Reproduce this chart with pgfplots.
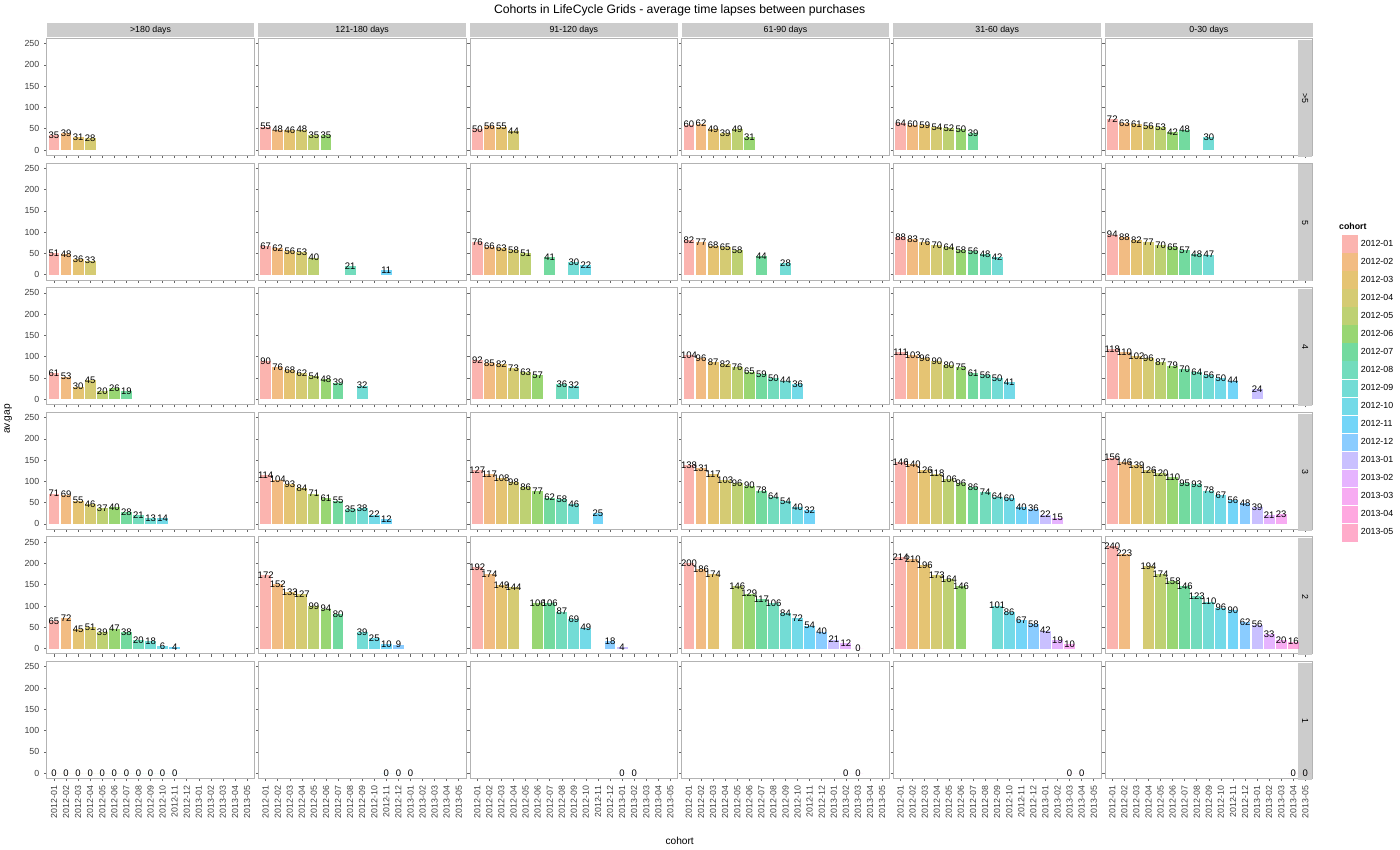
\documentclass[border=0pt]{standalone}
\usepackage{pgfplots}
\pgfplotsset{compat=1.18}
\usepgfplotslibrary{groupplots}
\usetikzlibrary{calc}
\usepackage{fontspec}
\setmainfont{Liberation Sans}
\definecolor{c0}{HTML}{F8766D}\definecolor{c1}{HTML}{E7851E}\definecolor{c2}{HTML}{D09400}
\definecolor{c3}{HTML}{B2A100}\definecolor{c4}{HTML}{89AC00}\definecolor{c5}{HTML}{45B500}
\definecolor{c6}{HTML}{00BC51}\definecolor{c7}{HTML}{00C087}\definecolor{c8}{HTML}{00C0B2}
\definecolor{c9}{HTML}{00BCD6}\definecolor{c10}{HTML}{00B3F2}\definecolor{c11}{HTML}{29A3FF}
\definecolor{c12}{HTML}{9C8DFF}\definecolor{c13}{HTML}{D277FF}\definecolor{c14}{HTML}{F166E8}
\definecolor{c15}{HTML}{FF61C7}\definecolor{c16}{HTML}{FF689E}
\definecolor{stripg}{HTML}{CCCCCC}
\definecolor{frameg}{HTML}{B3B3B3}
\pgfplotsset{
  bars/.style={ybar, bar width=0.9, bar shift=0pt, mark=none, draw=none, fill opacity=0.55,
    nodes near coords,
    every node near coord/.append style={anchor=center, text=black, fill opacity=0, text opacity=1, font=\fontsize{7}{7}\selectfont, inner sep=0pt}},
}
\newcommand\pp[1]{\foreach \xx/\yy in {#1}{\edef\temp{\noexpand\addplot[bars, fill=c\xx] coordinates {(\xx,\yy)};}\temp}}
\newcommand\strip[1]{\node[fill=stripg, anchor=south, minimum width=153pt, minimum height=10.5pt, inner sep=0pt, yshift=0.5pt, font=\fontsize{6.5}{6.5}\selectfont] at (rel axis cs:0.5,1) {#1};}
\newcommand\rstrip[1]{\node[fill=stripg, anchor=north, rotate=-90, minimum width=86.25pt, minimum height=10.5pt, inner sep=0pt, xshift=1pt, font=\fontsize{6.5}{6.5}\selectfont] at (rel axis cs:1,0.5) {#1};}
\newcommand\li[1]{\addlegendimage{draw=none,fill=c#1,fill opacity=0.55}}
\begin{document}
\begin{tikzpicture}
\begin{groupplot}[
  group style={group size=6 by 6, horizontal sep=3pt, vertical sep=5.6pt,
    xticklabels at=edge bottom, yticklabels at=edge left},
  scale only axis, width=153pt, height=86.25pt,
  xmin=-0.6, xmax=16.6, ymin=-12.5, ymax=262.5,
  xtick={0,...,16}, ytick={0,50,...,250},
  xticklabels={2012-01,2012-02,2012-03,2012-04,2012-05,2012-06,2012-07,2012-08,2012-09,2012-10,2012-11,2012-12,2013-01,2013-02,2013-03,2013-04,2013-05},
  x tick label style={rotate=90, anchor=east, font=\fontsize{6.5}{6.5}\selectfont, text=black!75},
  y tick label style={font=\fontsize{6.5}{6.5}\selectfont, text=black!75},
  /pgf/number format/assume math mode=true,
  tick align=outside, tick pos=left, major tick length=2pt,
  every tick/.style={black!60},
  axis line style={frameg, line width=0.6pt},
  clip=false,
]
% row >5
\nextgroupplot \strip{>180 days} \pp{0/35,1/39,2/31,3/28}
\nextgroupplot \strip{121-180 days} \pp{0/55,1/48,2/46,3/48,4/35,5/35}
\nextgroupplot \strip{91-120 days} \pp{0/50,1/56,2/55,3/44}
\nextgroupplot \strip{61-90 days} \pp{0/60,1/62,2/49,3/39,4/49,5/31}
\nextgroupplot \strip{31-60 days} \pp{0/64,1/60,2/59,3/54,4/52,5/50,6/39}
\nextgroupplot \strip{0-30 days} \rstrip{>5} \pp{0/72,1/63,2/61,3/56,4/53,5/42,6/48,8/30}
% row 5
\nextgroupplot \pp{0/51,1/48,2/36,3/33}
\nextgroupplot \pp{0/67,1/62,2/56,3/53,4/40,7/21,10/11}
\nextgroupplot \pp{0/76,1/66,2/63,3/58,4/51,6/41,8/30,9/22}
\nextgroupplot \pp{0/82,1/77,2/68,3/65,4/58,6/44,8/28}
\nextgroupplot \pp{0/88,1/83,2/76,3/70,4/64,5/58,6/56,7/48,8/42}
\nextgroupplot \rstrip{5} \pp{0/94,1/88,2/82,3/77,4/70,5/65,6/57,7/48,8/47}
% row 4
\nextgroupplot \pp{0/61,1/53,2/30,3/45,4/20,5/26,6/19}
\nextgroupplot \pp{0/90,1/76,2/68,3/62,4/54,5/48,6/39,8/32}
\nextgroupplot \pp{0/92,1/85,2/82,3/73,4/63,5/57,7/36,8/32}
\nextgroupplot \pp{0/104,1/96,2/87,3/82,4/76,5/65,6/59,7/50,8/44,9/36}
\nextgroupplot \pp{0/111,1/103,2/96,3/90,4/80,5/75,6/61,7/56,8/50,9/41}
\nextgroupplot[legend style={at={(rel axis cs:1.12,0.2)}, anchor=west, draw=none, fill=none, font=\fontsize{6.5}{6.5}\selectfont, row sep=0.3pt},
  legend cell align=left,
  legend image code/.code={\fill[#1] (0pt,-6.5pt) rectangle (12pt,6.5pt);}]
 \rstrip{4}
 \addlegendimage{empty legend}\addlegendentry{\hspace{-16pt}\textbf{cohort}}
 \li{0}\addlegendentry{2012-01}
 \li{1}\addlegendentry{2012-02}
 \li{2}\addlegendentry{2012-03}
 \li{3}\addlegendentry{2012-04}
 \li{4}\addlegendentry{2012-05}
 \li{5}\addlegendentry{2012-06}
 \li{6}\addlegendentry{2012-07}
 \li{7}\addlegendentry{2012-08}
 \li{8}\addlegendentry{2012-09}
 \li{9}\addlegendentry{2012-10}
 \li{10}\addlegendentry{2012-11}
 \li{11}\addlegendentry{2012-12}
 \li{12}\addlegendentry{2013-01}
 \li{13}\addlegendentry{2013-02}
 \li{14}\addlegendentry{2013-03}
 \li{15}\addlegendentry{2013-04}
 \li{16}\addlegendentry{2013-05}
 \pp{0/118,1/110,2/102,3/96,4/87,5/79,6/70,7/64,8/56,9/50,10/44,12/24}
% row 3
\nextgroupplot \pp{0/71,1/69,2/55,3/46,4/37,5/40,6/28,7/21,8/13,9/14}
\nextgroupplot \pp{0/114,1/104,2/93,3/84,4/71,5/61,6/55,7/35,8/38,9/22,10/12}
\nextgroupplot \pp{0/127,1/117,2/108,3/98,4/86,5/77,6/62,7/58,8/46,10/25}
\nextgroupplot \pp{0/138,1/131,2/117,3/103,4/96,5/90,6/78,7/64,8/54,9/40,10/32}
\nextgroupplot \pp{0/146,1/140,2/126,3/118,4/106,5/96,6/86,7/74,8/64,9/60,10/40,11/36,12/22,13/15}
\nextgroupplot \rstrip{3} \pp{0/156,1/146,2/139,3/126,4/120,5/110,6/95,7/93,8/78,9/67,10/56,11/48,12/39,13/21,14/23}
% row 2
\nextgroupplot \pp{0/65,1/72,2/45,3/51,4/39,5/47,6/38,7/20,8/18,9/6,10/4}
\nextgroupplot \pp{0/172,1/152,2/133,3/127,4/99,5/94,6/80,8/39,9/25,10/10,11/9}
\nextgroupplot \pp{0/192,1/174,2/149,3/144,5/106,6/106,7/87,8/69,9/49,11/18,12/4}
\nextgroupplot \pp{0/200,1/186,2/174,4/146,5/129,6/117,7/106,8/84,9/72,10/54,11/40,12/21,13/12,14/0}
\nextgroupplot \pp{0/214,1/210,2/196,3/173,4/164,5/146,8/101,9/86,10/67,11/58,12/42,13/19,14/10}
\nextgroupplot \rstrip{2} \pp{0/240,1/223,3/194,4/174,5/158,6/146,7/123,8/110,9/96,10/90,11/62,12/56,13/33,14/20,15/16}
% row 1
\nextgroupplot \pp{0/0,1/0,2/0,3/0,4/0,5/0,6/0,7/0,8/0,9/0,10/0}
\nextgroupplot \pp{10/0,11/0,12/0}
\nextgroupplot \pp{12/0,13/0}
\nextgroupplot \pp{13/0,14/0}
\nextgroupplot \pp{14/0,15/0}
\nextgroupplot \rstrip{1} \pp{15/0,16/0}
\end{groupplot}
\node[font=\fontsize{9}{9}\selectfont, anchor=south] at ($(group c3r1.north east)!0.5!(group c4r1.north west)+(0,13pt)$) {Cohorts in LifeCycle Grids - average time lapses between purchases};
\node[font=\fontsize{7.5}{7.5}\selectfont, anchor=north] at ($(group c3r6.south east)!0.5!(group c4r6.south west)+(0,-40pt)$) {cohort};
\node[font=\fontsize{7.5}{7.5}\selectfont, rotate=90, anchor=south] at ($(group c1r4.north west)+(-22pt,-5pt)$) {av.gap};
\end{tikzpicture}
\end{document}
